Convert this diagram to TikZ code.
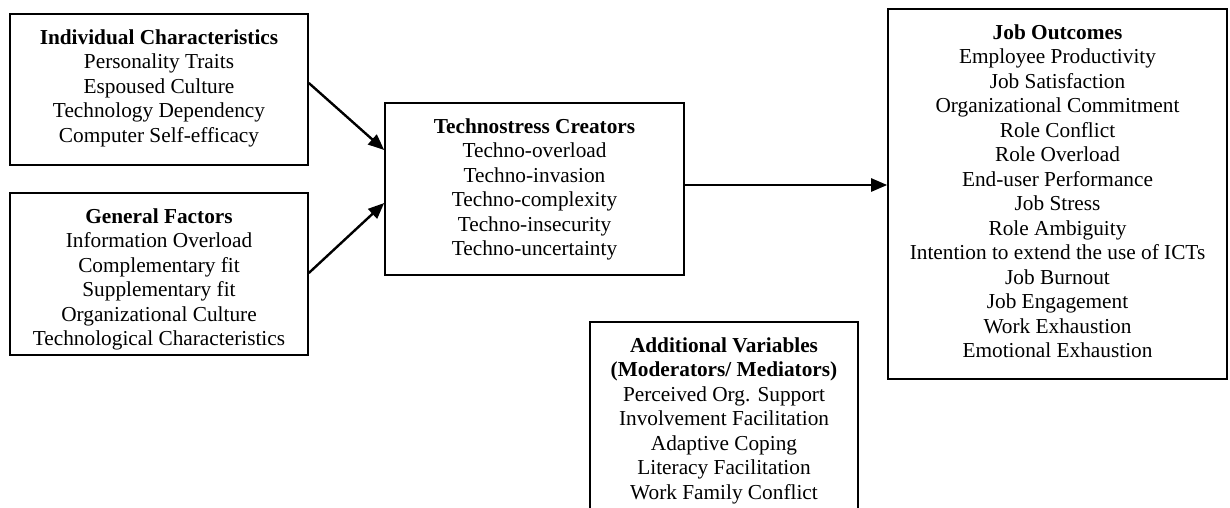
\documentclass[tikz,border=0pt]{standalone}
\usepackage{fontspec}
\setmainfont{Liberation Serif}
\usetikzlibrary{arrows.meta}
\begin{document}
\begin{tikzpicture}[x=1pt,y=-1pt,
  box/.style={draw,line width=1.6pt,inner sep=0pt,rectangle},
  txt/.style={align=center,inner sep=0pt,anchor=north,font=\fontsize{21.3}{24.5}\selectfont},
  conn/.style={line width=2.4pt,-{Triangle[length=16pt,width=13pt]}}]
\useasboundingbox (0,0) rectangle (1230,507);
\clip (0,0) rectangle (1230,507);

% boxes
\node[box,minimum width=298pt,minimum height=151pt] (ind) at (159,89.5) {};
\node[box,minimum width=298pt,minimum height=162pt] (gen) at (159,274) {};
\node[box,minimum width=299pt,minimum height=172pt] (tc) at (534.5,189) {};
\node[box,minimum width=339pt,minimum height=370pt] (job) at (1057.5,194) {};
\node[box,minimum width=268pt,minimum height=218pt] (add) at (724,431) {};

% texts
\node[txt] (indt) at (159,26) {\rule{0pt}{18pt}\textbf{Individual Characteristics}\\Personality Traits\\Espoused Culture\\Technology Dependency\\Computer Self-efficacy};
\node[txt] (gent) at (159,205) {\rule{0pt}{18pt}\textbf{General Factors}\\Information Overload\\Complementary fit\\Supplementary fit\\Organizational Culture\\Technological Characteristics};
\node[txt] (tct) at (534.5,115) {\rule{0pt}{18pt}\textbf{Technostress Creators}\\Techno-overload\\Techno-invasion\\Techno-complexity\\Techno-insecurity\\Techno-uncertainty};
\node[txt] (jobt) at (1057.5,21) {\rule{0pt}{18pt}\textbf{Job Outcomes}\\Employee Productivity\\Job Satisfaction\\Organizational Commitment\\Role Conflict\\Role Overload\\End-user Performance\\Job Stress\\Role Ambiguity\\Intention to extend the use of ICTs\\Job Burnout\\Job Engagement\\Work Exhaustion\\Emotional Exhaustion};
\node[txt] (addt) at (724,334) {\rule{0pt}{18pt}\textbf{Additional Variables}\\\textbf{(Moderators/ Mediators)}\\Perceived Org. Support\\Involvement Facilitation\\Adaptive Coping\\Literacy Facilitation\\Work Family Conflict};

% connectors
\draw[conn] ([yshift=6.5pt]ind.east) -- ([yshift=39pt]tc.west);
\draw[conn] ([yshift=1pt]gen.east) -- ([yshift=-14pt]tc.west);
\draw[conn] ([yshift=4pt]tc.east) -- ([yshift=4pt]tc.east -| job.west);
\end{tikzpicture}
\end{document}
